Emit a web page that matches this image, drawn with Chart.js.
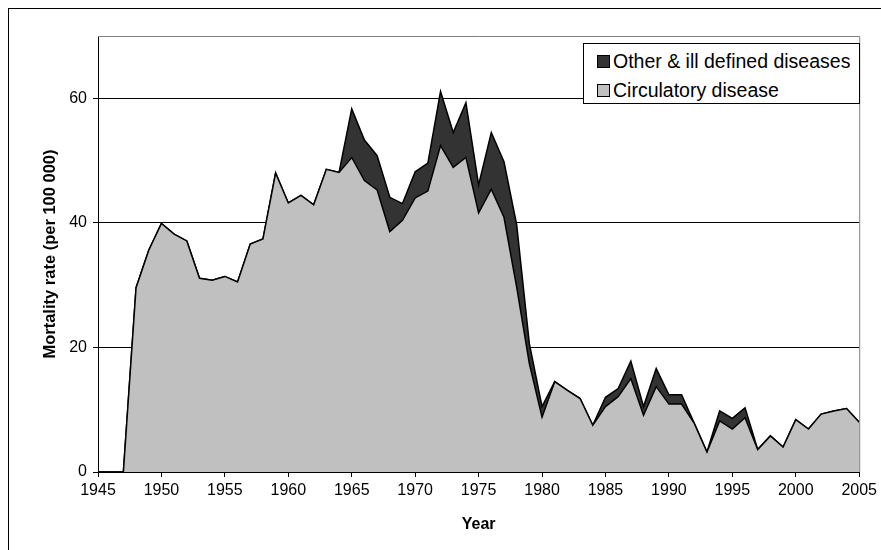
<!DOCTYPE html>
<html>
<head>
<meta charset="utf-8">
<script src="https://cdn.jsdelivr.net/npm/chart.js@4.4.1/dist/chart.umd.min.js"></script>
<style>
  body { margin: 0; background: #fff; }
  #wrap { position: relative; width: 881px; height: 550px; }
  #legend {
    position: absolute; left: 583px; top: 43px; width: 277px; height: 61px;
    border: 1px solid #000; background: #fff; box-sizing: border-box;
    font-family: "Liberation Sans", Arial, sans-serif; font-size: 19.5px; color: #000;
    padding: 3px 0 0 13px;
  }
  #legend div { height: 29px; line-height: 29px; white-space: nowrap; }
  #legend span.box {
    display: inline-block; width: 11px; height: 11px; border: 1px solid #000;
    margin-right: 3px; vertical-align: 0px;
  }
</style>
</head>
<body>
<div id="wrap">
  <canvas id="mycanvas" width="881" height="550"></canvas>
  <div id="legend">
    <div><span class="box" style="background:#333333"></span>Other &amp; ill defined diseases</div>
    <div><span class="box" style="background:#c0c0c0"></span>Circulatory disease</div>
  </div>
</div>
<script>
var years = [];
for (var y = 1945; y <= 2005; y++) years.push(y);

var circulatory = [
  0, 0, 0, 29.6, 35.6, 39.9, 38.2, 37.1, 31.1, 30.8,   // 1945-1954
  31.4, 30.5, 36.6, 37.4, 48.0, 43.2, 44.4, 42.9, 48.6, 48.1, // 1955-1964
  50.5, 46.8, 45.3, 38.6, 40.4, 44.0, 45.1, 52.4, 48.9, 50.5, // 1965-1974
  41.6, 45.4, 40.9, 29.7, 17.4, 8.8, 14.5, 13.1, 11.8, 7.5,   // 1975-1984
  10.5, 12.1, 15.0, 9.1, 13.7, 10.9, 10.9, 7.8, 3.2, 8.2,     // 1985-1994
  6.9, 8.7, 3.6, 5.8, 4.0, 8.4, 6.9, 9.3, 9.8, 10.2,          // 1995-2004
  8.0                                                          // 2005
];

var other = [
  0, 0, 0, 0, 0, 0, 0, 0, 0, 0,
  0, 0, 0, 0, 0, 0, 0, 0, 0, 0,
  7.8, 6.5, 5.5, 5.5, 2.7, 4.2, 4.5, 8.7, 5.6, 8.8,
  4.5, 9.1, 8.9, 10.0, 3.2, 1.7, 0, 0, 0, 0,
  1.5, 1.3, 2.8, 1.4, 2.9, 1.5, 1.5, 0, 0, 1.6,
  1.7, 1.6, 0, 0, 0, 0, 0, 0, 0, 0,
  0
];

var yTicks = [0, 20, 40, 60];

function pts(arr) {
  var out = [];
  for (var i = 0; i < years.length; i++) out.push({x: years[i], y: arr[i]});
  return out;
}

var frame = {
  id: 'frame',
  beforeDraw: function(chart) {
    var ctx = chart.ctx;
    ctx.save();
    ctx.fillStyle = '#fff';
    ctx.fillRect(0, 0, chart.width, chart.height);
    ctx.strokeStyle = '#000';
    ctx.lineWidth = 1;
    ctx.strokeRect(8.5, 8.5, 2000, 2000);
    ctx.restore();
  },
  afterDraw: function(chart) {
    var ctx = chart.ctx, a = chart.chartArea;
    ctx.save();
    ctx.strokeStyle = '#808080';
    ctx.lineWidth = 1;
    ctx.beginPath();
    ctx.moveTo(a.left, a.top + 0.5);
    ctx.lineTo(a.right + 0.5, a.top + 0.5);
    ctx.lineTo(a.right + 0.5, a.bottom);
    ctx.stroke();
    ctx.restore();
  }
};

var font = "'Liberation Sans', Arial, sans-serif";

var chartdata = {
  datasets: [
    {
      label: 'Circulatory disease',
      data: pts(circulatory),
      backgroundColor: '#c0c0c0',
      borderColor: '#000',
      borderWidth: 1.5,
      fill: 'origin',
      pointRadius: 0,
      lineTension: 0
    },
    {
      label: 'Other & ill defined diseases',
      data: pts(other),
      backgroundColor: '#333333',
      borderColor: '#000',
      borderWidth: 1.5,
      fill: '-1',
      pointRadius: 0,
      lineTension: 0
    }
  ]
};

var ctx = document.getElementById('mycanvas');
var LineGraph = new Chart(ctx, {
  type: 'line',
  data: chartdata,
  plugins: [frame],
  options: {
    responsive: false,
    animation: false,
    layout: { padding: { top: 36, right: 16, left: 0, bottom: 0 } },
    plugins: { legend: { display: false }, tooltip: { enabled: false } },
    scales: {
      x: {
        type: 'linear', min: 1945, max: 2005,
        afterFit: function(s) { s.height = 78; },
        ticks: { stepSize: 5, color: '#000', font: { family: font, size: 16 }, padding: 4,
                 maxRotation: 0, autoSkip: false,
                 callback: function(v) { return String(v); } },
        grid: { drawOnChartArea: false, color: '#000', tickLength: 5 },
        border: { color: '#000', width: 1 },
        title: { display: true, text: 'Year', color: '#000',
                 font: { family: font, size: 16, weight: 'bold' }, padding: { top: 0, bottom: 16 } }
      },
      y: {
        stacked: true, min: 0, max: 70,
        afterFit: function(s) { s.width = 98; },
        afterBuildTicks: function(s) { s.ticks = yTicks.map(function(v) { return {value: v}; }); },
        ticks: { color: '#000', font: { family: font, size: 16 }, padding: 6 },
        grid: { color: '#000', tickLength: 5 },
        border: { color: '#000', width: 1 },
        title: { display: true, text: 'Mortality rate (per 100 000)', color: '#000',
                 font: { family: font, size: 16.5, weight: 'bold' }, padding: { top: 41, bottom: 0 } }
      }
    }
  }
});
</script>
</body>
</html>
